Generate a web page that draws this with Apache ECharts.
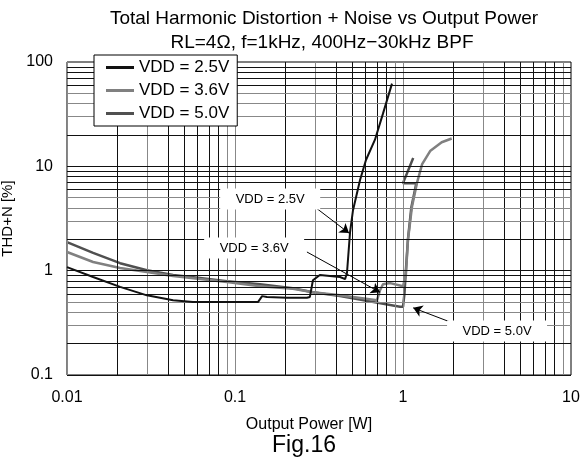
<!DOCTYPE html>
<html>
<head>
<meta charset="utf-8">
<script src="https://cdn.jsdelivr.net/npm/echarts@6/dist/echarts.min.js"></script>
<style>
html, body { margin: 0; padding: 0; background: #fff; }
#chart { width: 588px; height: 464px; }
</style>
</head>
<body>
<div id="chart"></div>
<script>
// curves: output power [W] and THD+N [%]
var power25 = [0.01, 0.0143, 0.0207, 0.0299, 0.0428, 0.0562, 0.137, 0.145, 0.155, 0.204, 0.268, 0.279, 0.291, 0.32, 0.422, 0.452, 0.464, 0.484, 0.504, 0.555, 0.602, 0.681, 0.76, 0.86];
var thd25   = [1.08, 0.87, 0.70, 0.58, 0.52, 0.50, 0.50, 0.57, 0.56, 0.55, 0.55, 0.56, 0.81, 0.91, 0.87, 0.83, 0.95, 2.34, 3.8, 7.4, 11.5, 18, 32, 62];

var power36 = [0.01, 0.0143, 0.0207, 0.0299, 0.0428, 0.0619, 0.0896, 0.141, 0.221, 0.291, 0.422, 0.70, 0.73, 0.76, 0.84, 1.0, 1.04, 1.07, 1.13, 1.21, 1.30, 1.45, 1.7, 1.95];
var thd36   = [1.51, 1.21, 1.06, 0.97, 0.89, 0.83, 0.78, 0.71, 0.67, 0.62, 0.58, 0.52, 0.65, 0.74, 0.76, 0.71, 0.91, 1.96, 4.07, 6.9, 10.5, 14, 17, 18.5];

var power50 = [0.01, 0.0143, 0.0207, 0.0299, 0.0428, 0.0619, 0.0896, 0.141, 0.221, 0.291, 0.422, 0.96, 1.0, 1.02, 1.04, 1.07, 1.12, 1.2, 1.0, 1.15];
var thd50   = [1.88, 1.48, 1.18, 1.01, 0.91, 0.85, 0.79, 0.74, 0.68, 0.62, 0.57, 0.45, 0.45, 0.6, 1.0, 2.0, 4.0, 6.9, 6.9, 12];

var seriesNames = ['VDD = 2.5V', 'VDD = 3.6V', 'VDD = 5.0V'];

var xTicks = [0.01, 0.1, 1, 10];
var yTicks = [0.1, 1, 10, 100];
var xTickLabels = ['0.01', '0.1', '1', '10'];
var yTickLabels = ['0.1', '1', '10', '100'];

// callouts: label centre, arrow start, arrow end (data coords)
var noteText = ['VDD = 2.5V', 'VDD = 3.6V', 'VDD = 5.0V'];
var noteAt   = [[0.162, 4.85], [0.130, 1.65], [3.63, 0.264]];
var arrowFrom = [[0.299, 4.07], [0.268, 1.51], [1.98, 0.315]];
var arrowTo   = [[0.477, 2.29], [0.73, 0.62], [1.15, 0.44]];

function pairs(xs, ys) {
    var out = [];
    for (var i = 0; i < xs.length; i++) out.push([xs[i], ys[i]]);
    return out;
}

// grid lines, one per 1..9 in every decade (scan has a mix of black and grey)
var gridX = [], gridY = [];
for (var d = -2; d < 1; d++) {
    for (var m = 1; m < 10; m++) {
        gridX.push({ xAxis: m * Math.pow(10, d), lineStyle: { color: (m == 3 || m == 9 || m == 1) ? '#888' : '#111' } });
    }
}
for (var d = -1; d < 2; d++) {
    for (var m = 1; m < 10; m++) {
        gridY.push({ yAxis: m * Math.pow(10, d), lineStyle: { color: (m == 3 || m == 4 || m == 5) ? '#888' : '#111' } });
    }
}

var font = 'Liberation Sans, Arial, sans-serif';
var chart = echarts.init(document.getElementById('chart'), null, { renderer: 'canvas' });

var option = {
    animation: false,
    backgroundColor: '#fff',
    textStyle: { fontFamily: font, color: '#000' },
    graphic: [
        { type: 'text', x: 324, y: 19, style: { text: 'Total Harmonic Distortion + Noise vs Output Power', font: '19px ' + font, fill: '#000', textAlign: 'center', textVerticalAlign: 'middle' } },
        { type: 'text', x: 322, y: 43, style: { text: 'RL=4Ω, f=1kHz, 400Hz−30kHz BPF', font: '19px ' + font, fill: '#000', textAlign: 'center', textVerticalAlign: 'middle' } },
        { type: 'text', x: 304, y: 446, style: { text: 'Fig.16', font: '23px ' + font, fill: '#000', textAlign: 'center', textVerticalAlign: 'middle' } }
    ],
    grid: {
        left: 67, top: 62, right: 17, bottom: 89,
        show: true, borderColor: '#000', borderWidth: 1,
        outerBoundsMode: 'none'
    },
    legend: {
        data: seriesNames,
        orient: 'vertical',
        left: 94, top: 55, z: 20,
        backgroundColor: '#fff',
        borderColor: '#000', borderWidth: 1,
        padding: [4, 8, 4, 12],
        itemGap: 6,
        itemWidth: 28, itemHeight: 3,
        icon: 'rect',
        textStyle: { fontSize: 17, color: '#000', fontFamily: font }
    },
    xAxis: {
        type: 'log', logBase: 10, min: 0.01, max: 10,
        name: 'Output Power [W]', nameLocation: 'middle', nameGap: 42,
        nameTextStyle: { fontSize: 16, color: '#000', padding: [0, 20, 0, 0] },
        axisLine: { show: false },
        axisTick: { show: false },
        splitLine: { show: false },
        axisLabel: {
            fontSize: 16, color: '#000', margin: 15,
            formatter: function (v) { var i = xTicks.indexOf(+v.toPrecision(3)); return i < 0 ? '' : xTickLabels[i]; }
        }
    },
    yAxis: {
        type: 'log', logBase: 10, min: 0.1, max: 100,
        name: 'THD+N [%]', nameLocation: 'middle', nameGap: 38,
        nameTextStyle: { fontSize: 15, color: '#000' },
        axisLine: { show: false },
        axisTick: { show: false },
        splitLine: { show: false },
        axisLabel: {
            fontSize: 16, color: '#000', margin: 14,
            formatter: function (v) { var i = yTicks.indexOf(+v.toPrecision(3)); return i < 0 ? '' : yTickLabels[i]; }
        }
    },
    series: [
        {
            name: 'grid', type: 'line', data: [], z: 1, silent: true,
            markLine: {
                silent: true, symbol: ['none', 'none'], label: { show: false },
                lineStyle: { type: 'solid', width: 1 },
                data: gridX.concat(gridY)
            }
        },
        {
            name: seriesNames[0], type: 'line', data: pairs(power25, thd25),
            showSymbol: false, symbol: 'none', z: 5,
            lineStyle: { color: '#111', width: 2 }, itemStyle: { color: '#111' }
        },
        {
            name: seriesNames[1], type: 'line', data: pairs(power36, thd36),
            showSymbol: false, symbol: 'none', z: 4,
            lineStyle: { color: '#808080', width: 2.5 }, itemStyle: { color: '#808080' }
        },
        {
            name: seriesNames[2], type: 'line', data: pairs(power50, thd50),
            showSymbol: false, symbol: 'none', z: 3,
            lineStyle: { color: '#505050', width: 2.5 }, itemStyle: { color: '#505050' }
        },
        {
            name: 'notes', type: 'line', data: [], z: 6, silent: true,
            markLine: {
                silent: true, symbol: ['none', 'arrow'], symbolSize: 9,
                label: { show: false },
                lineStyle: { type: 'solid', color: '#000', width: 1 },
                data: arrowFrom.map(function (a, i) { return [{ coord: a }, { coord: arrowTo[i] }]; })
            },
            markPoint: {
                silent: true, symbol: 'rect', symbolSize: [100, 21],
                itemStyle: { color: '#fff' },
                label: { show: true, color: '#000', fontSize: 13, fontFamily: font, formatter: '{b}' },
                data: noteText.map(function (t, i) { return { name: t, coord: noteAt[i] }; })
            }
        }
    ]
};
chart.setOption(option);
</script>
</body>
</html>
